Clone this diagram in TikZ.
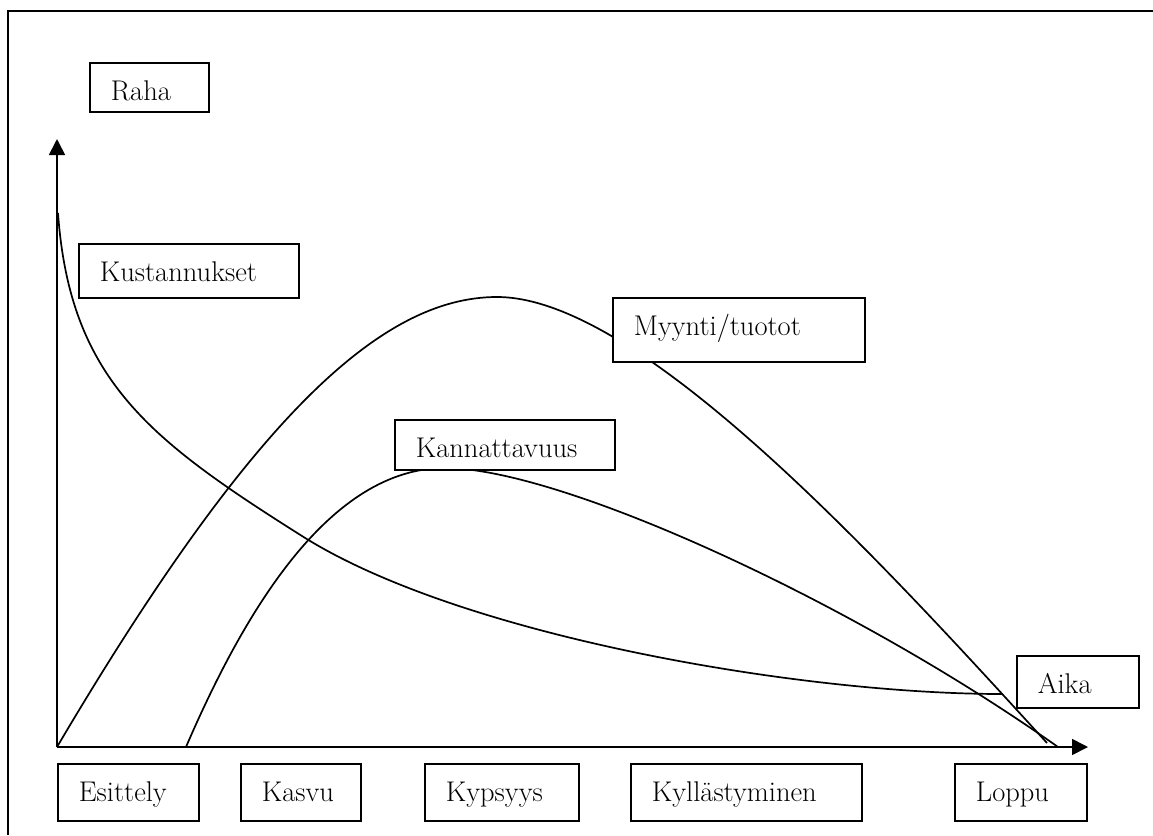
\documentclass[tikz,border=0pt]{standalone}
\usetikzlibrary{arrows.meta}
\newcommand\bxfont{\fontsize{28.5pt}{32pt}\selectfont}
\tikzset{
  curve/.style={line width=1.7pt},
  axisline/.style={line width=1.7pt, -{Triangle[length=16pt,width=16pt]}},
  frameline/.style={line width=2.2pt},
  bx/.style={draw, fill=white, line width=1.7pt, anchor=north west,
    inner xsep=21pt, inner ysep=0pt, text height=38pt, align=left, font=\bxfont},
}
\begin{document}
\begin{tikzpicture}[x=1pt,y=-1pt]
\useasboundingbox (0,0) rectangle (1153,835);
% frame
\coordinate (fbl) at (8,835);
\coordinate (ftl) at (8,11);
\coordinate (ftr) at (1153,11);
\draw[frameline] (fbl) -- (ftl) -- (ftr);
% axes
\coordinate (O) at (57,747);
\coordinate (ytip) at (57,139);
\coordinate (xtip) at (1088,747);
\draw[axisline] (O) -- (ytip);
\draw[axisline] (O) -- (xtip);
% curves
\coordinate (kusStart) at (58,213);
\coordinate (kusEnd) at (1002,694);
\draw[curve] (kusStart) .. controls (70,380) and (150,440) .. (302,536)
  .. controls (460,636) and (800,694) .. (kusEnd);
\coordinate (myyEnd) at (1047,743);
\draw[curve] (O) .. controls (250,420) and (380,297) .. (497,297)
  .. controls (640,297) and (880,560) .. (myyEnd);
\coordinate (kanStart) at (186,747);
\coordinate (kanEnd) at (1058,747);
\draw[curve] (kanStart) .. controls (245,610) and (330,468) .. (445,468)
  .. controls (560,468) and (850,600) .. (kanEnd);
% boxes
\node[bx, text width=77pt, text depth=11pt] (raha) at (89,62) {Raha};
\node[bx, text width=178pt, text depth=16pt] (kus) at (78,243) {Kustannukset};
\node[bx, text width=210pt, text depth=26pt] (myy) at (612,297) {Myynti/tuotot};
\node[bx, text width=178pt, text depth=12pt] (kan) at (394,419) {Kannattavuus};
\node[bx, text width=80pt, text depth=14pt] (aika) at (1016,655) {Aika};
\node[bx, text width=99pt, text depth=19pt] (esi) at (57,763) {Esittely};
\node[bx, text width=78pt, text depth=19pt] (kas) at (240,763) {Kasvu};
\node[bx, text width=112pt, text depth=19pt] (kyp) at (424,763) {Kypsyys};
\node[bx, text width=189pt, text depth=19pt] (kyl) at (630,763) {Kyllästyminen};
\node[bx, text width=90pt, text depth=19pt] (lop) at (954,763) {Loppu};
\end{tikzpicture}
\end{document}
